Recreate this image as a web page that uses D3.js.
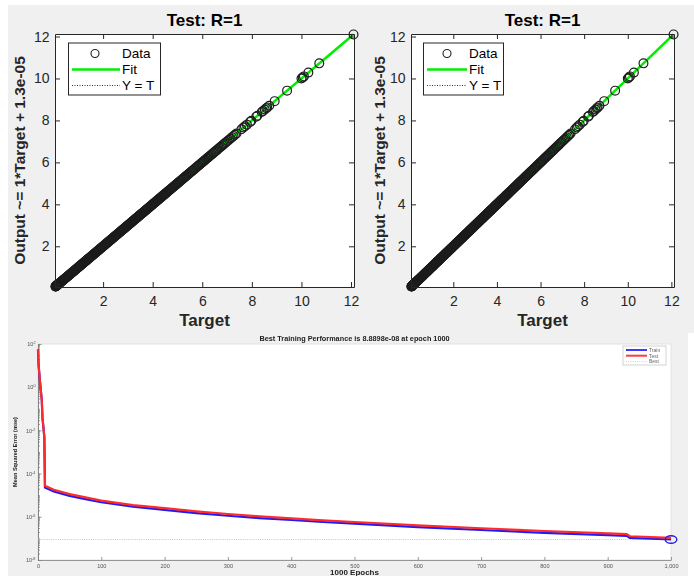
<!DOCTYPE html>
<html>
<head>
<meta charset="utf-8">
<script src="https://cdn.jsdelivr.net/npm/d3@7"></script>
<style>
  body { margin: 0; background: #ffffff; }
  svg { display: block; font-family: "Liberation Sans", Arial, Helvetica, sans-serif; }
</style>
</head>
<body>
<svg id="fig" width="694" height="576"></svg>
<script>
// ---------------- data ----------------
// Regression targets (outputs equal the targets to plotted precision, R = 1)
const targets = [
  0.08,0.085,0.09,0.095,0.10,0.105,0.11,0.12,0.125,0.13,0.14,0.15,0.16,0.17,0.18,0.19,0.20,0.215,0.23,0.245,
  0.26,0.275,0.29,0.31,0.33,0.35,0.37,0.39,0.41,0.43,0.45,0.48,0.50,0.53,0.55,0.58,0.60,0.63,0.65,0.68,
  0.70,0.73,0.75,0.78,0.80,0.83,0.85,0.88,0.90,0.93,0.95,0.98,1.00,1.03,1.05,1.08,1.10,1.13,1.15,1.18,
  1.20,1.23,1.25,1.28,1.30,1.33,1.35,1.38,1.40,1.43,1.45,1.48,1.50,1.53,1.55,1.58,1.60,1.63,1.65,1.68,
  1.70,1.73,1.75,1.78,1.80,1.83,1.85,1.88,1.90,1.93,1.95,1.98,2.00,2.03,2.05,2.08,2.10,2.13,2.15,2.18,
  2.20,2.23,2.25,2.28,2.30,2.33,2.35,2.38,2.40,2.43,2.45,2.48,2.50,2.53,2.55,2.58,2.60,2.63,2.65,2.68,
  2.70,2.73,2.75,2.78,2.80,2.83,2.85,2.88,2.90,2.93,2.95,2.98,3.00,3.03,3.05,3.08,3.10,3.13,3.15,3.18,
  3.20,3.23,3.25,3.28,3.30,3.33,3.35,3.38,3.40,3.43,3.45,3.48,3.50,3.53,3.55,3.58,3.60,3.63,3.65,3.68,
  3.70,3.73,3.75,3.78,3.80,3.83,3.85,3.88,3.90,3.93,3.95,3.98,4.00,4.03,4.05,4.08,4.10,4.13,4.15,4.18,
  4.20,4.23,4.25,4.28,4.30,4.33,4.35,4.38,4.40,4.43,4.45,4.48,4.50,4.53,4.56,4.59,4.62,4.65,4.68,4.71,
  4.74,4.77,4.80,4.83,4.86,4.89,4.92,4.95,4.98,5.01,5.04,5.07,5.11,5.14,5.17,5.21,5.24,5.28,5.31,5.35,
  5.38,5.42,5.45,5.49,5.53,5.57,5.60,5.64,5.68,5.72,5.76,5.80,5.84,5.88,5.92,5.96,6.00,6.04,6.08,6.12,
  6.17,6.21,6.25,6.29,6.34,6.38,6.43,6.47,6.52,6.56,6.61,6.66,6.71,6.76,6.81,6.86,6.91,6.96,7.02,7.08,
  7.14,7.20,7.26,7.32,7.38,
  7.58,7.66,7.72,7.80,7.93,7.98,8.18,8.22,8.40,8.45,8.52,8.58,8.62,8.70,8.92,9.42,10.00,10.05,10.10,10.28,
  10.72,12.10
];
const fitSlope = 1;
const fitIntercept = 1.3e-5;
const regTicks = [2, 4, 6, 8, 10, 12];
const regTitle = "Test: R=1";
const regYLabel = "Output ~= 1*Target + 1.3e-05";
const regXLabel = "Target";
const regLegend = ["Data", "Fit", "Y = T"];

// Training record
const epochs    = [0, 1, 3, 6, 7, 9, 10, 11, 25, 50, 75, 100, 150, 200, 250, 300, 350, 400, 450, 500, 600, 700, 800, 900, 930, 935, 1000];
const trainPerf = [56, 10, 2.0, 0.25, 0.04, 0.01, 0.005, 2.24e-5, 1.48e-5, 9.3e-6, 6.6e-6, 4.7e-6, 2.95e-6, 2.1e-6, 1.48e-6, 1.12e-6,
                   8.7e-7, 7.1e-7, 5.75e-7, 4.8e-7, 3.3e-7, 2.45e-7, 1.82e-7, 1.41e-7, 1.32e-7, 1.05e-7, 8.8898e-8];
const testPerf  = [56, 10, 2.0, 0.25, 0.04, 0.01, 0.005, 2.7e-5, 1.8e-5, 1.12e-5, 7.9e-6, 5.6e-6, 3.5e-6, 2.5e-6, 1.8e-6, 1.35e-6,
                   1.05e-6, 8.5e-7, 6.9e-7, 5.75e-7, 4.0e-7, 2.95e-7, 2.2e-7, 1.7e-7, 1.58e-7, 1.26e-7, 1.05e-7];
const bestEpoch = 1000;
const bestPerf = 8.8898e-8;
const epochTicks = [0, 100, 200, 300, 400, 500, 600, 700, 800, 900, 1000];
const perfTitle = "Best Training Performance is 8.8898e-08 at epoch 1000";
const perfXLabel = "1000 Epochs";
const perfYLabel = "Mean Squared Error  (mse)";
const perfLegend = ["Train", "Test", "Best"];

// ---------------- drawing ----------------
const svg = d3.select("#fig");
const ink = "#262626";

// figure backgrounds
svg.append("rect").attr("x", 8).attr("y", 5).attr("width", 686).attr("height", 328).attr("fill", "#f0f0f0");
svg.append("rect").attr("x", 8).attr("y", 333).attr("width", 680).attr("height", 243).attr("fill", "#f0f0f0");

const extent = [0.06, 12.12];

function regressionPanel(p) {
  const g = svg.append("g");
  const x = d3.scaleLinear().domain(extent).range([p.left, p.right]);
  const y = d3.scaleLinear().domain(extent).range([p.bottom, p.top]);

  g.append("rect").attr("x", p.left).attr("y", p.top)
    .attr("width", p.right - p.left).attr("height", p.bottom - p.top).attr("fill", "#fff");

  const lo = d3.min(targets), hi = d3.max(targets);
  // Y = T reference
  g.append("line").attr("x1", x(lo)).attr("y1", y(lo)).attr("x2", x(hi)).attr("y2", y(hi))
    .attr("stroke", "#000").attr("stroke-width", 0.8).attr("stroke-dasharray", "1,1.5");
  // fitted line
  g.append("line").attr("x1", x(lo)).attr("y1", y(fitSlope * lo + fitIntercept))
    .attr("x2", x(hi)).attr("y2", y(fitSlope * hi + fitIntercept))
    .attr("stroke", "#00ee00").attr("stroke-width", 2.6);
  // data markers
  g.append("g").selectAll("circle").data(targets).join("circle")
    .attr("cx", d => x(d)).attr("cy", d => y(d)).attr("r", 4.4)
    .attr("fill", "none").attr("stroke", "#1c1c1c").attr("stroke-width", 1.2);

  // axes (ticks point inward, box on)
  const ax = [
    g.append("g").attr("transform", `translate(0,${p.bottom})`)
      .call(d3.axisBottom(x).tickValues(regTicks).tickSizeInner(-5).tickSizeOuter(0).tickPadding(9)),
    g.append("g").attr("transform", `translate(${p.left},0)`)
      .call(d3.axisLeft(y).tickValues(regTicks).tickSizeInner(-5).tickSizeOuter(0).tickPadding(5.5)),
    g.append("g").attr("transform", `translate(0,${p.top})`)
      .call(d3.axisTop(x).tickValues(regTicks).tickSizeInner(-5).tickSizeOuter(0).tickFormat("")),
    g.append("g").attr("transform", `translate(${p.right},0)`)
      .call(d3.axisRight(y).tickValues(regTicks).tickSizeInner(-5).tickSizeOuter(0).tickFormat(""))
  ];
  ax.forEach(a => {
    a.selectAll("path,line").attr("stroke", ink);
    a.selectAll("text").attr("fill", ink).attr("font-size", 14)
      .attr("font-family", "'Liberation Sans', Arial, sans-serif");
  });

  const cx = (p.left + p.right) / 2, cy = (p.top + p.bottom) / 2;
  g.append("text").attr("x", cx).attr("y", 26).attr("text-anchor", "middle")
    .attr("font-size", 17).attr("font-weight", "bold").attr("fill", "#000").text(regTitle);
  g.append("text").attr("x", cx).attr("y", 326).attr("text-anchor", "middle")
    .attr("font-size", 17).attr("font-weight", "bold").attr("fill", ink).text(regXLabel);
  g.append("text").attr("transform", `translate(${p.ylab},${cy}) rotate(-90)`).attr("text-anchor", "middle")
    .attr("font-size", 15.5).attr("font-weight", "bold").attr("fill", ink).text(regYLabel);

  // legend
  const L = p.legend;
  g.append("rect").attr("x", L.x0).attr("y", 43).attr("width", L.x1 - L.x0).attr("height", 52)
    .attr("fill", "#fff").attr("stroke", ink).attr("stroke-width", 1);
  const rows = [58, 74, 90];
  g.append("circle").attr("cx", L.mark).attr("cy", rows[0] - 4.5).attr("r", 4)
    .attr("fill", "none").attr("stroke", "#222").attr("stroke-width", 1.1);
  g.append("line").attr("x1", L.s0).attr("x2", L.s1).attr("y1", rows[1] - 4.5).attr("y2", rows[1] - 4.5)
    .attr("stroke", "#00ee00").attr("stroke-width", 2.6);
  g.append("line").attr("x1", L.s0).attr("x2", L.s1).attr("y1", rows[2] - 4.5).attr("y2", rows[2] - 4.5)
    .attr("stroke", "#000").attr("stroke-width", 0.8).attr("stroke-dasharray", "1,1.5");
  regLegend.forEach((t, i) => {
    g.append("text").attr("x", L.text).attr("y", rows[i]).attr("font-size", 13.5).attr("fill", "#000").text(t);
  });
}

regressionPanel({ left: 55, right: 354, top: 34, bottom: 287, ylab: 25,
  legend: { x0: 68.5, x1: 160.5, mark: 95, s0: 72, s1: 120, text: 122 } });
regressionPanel({ left: 411, right: 674, top: 34, bottom: 287, ylab: 385,
  legend: { x0: 423.5, x1: 503.5, mark: 447, s0: 427, s1: 467, text: 469 } });

// ---------------- training performance ----------------
const defs = svg.append("defs");
defs.append("filter").attr("id", "soft").attr("x", "-5%").attr("y", "-5%").attr("width", "110%").attr("height", "110%")
  .append("feGaussianBlur").attr("stdDeviation", 0.55);

const pg = svg.append("g").attr("filter", "url(#soft)");
const P = { left: 38, right: 671, top: 344, bottom: 560 };
const xe = d3.scaleLinear().domain([0, 1000]).range([P.left, P.right]);
const ye = d3.scaleLog().domain([1e-8, 1e2]).range([P.bottom, P.top]);

pg.append("rect").attr("x", P.left).attr("y", P.top).attr("width", P.right - P.left).attr("height", P.bottom - P.top)
  .attr("fill", "#fff").attr("stroke", "#e2e2e2").attr("stroke-width", 1);

const axCol = "#808080";
const xa = pg.append("g").attr("transform", `translate(0,${P.bottom})`)
  .call(d3.axisBottom(xe).tickValues(epochTicks).tickSizeInner(-3).tickSizeOuter(0).tickPadding(4));
const yaMinor = pg.append("g").attr("transform", `translate(${P.left},0)`)
  .call(d3.axisLeft(ye).tickValues(ye.ticks(20)).tickSizeInner(-2).tickSizeOuter(0).tickFormat(""));
const majors = ye.ticks(20).filter(v => Math.abs(Math.log10(v) % 2) < 1e-9);
const ya = pg.append("g").attr("transform", `translate(${P.left},0)`)
  .call(d3.axisLeft(ye).tickValues(majors).tickSizeInner(-3.5).tickSizeOuter(0).tickPadding(2.5).tickFormat(() => ""));
[xa, ya, yaMinor].forEach(a => {
  a.selectAll("path,line").attr("stroke", axCol).attr("stroke-width", 0.8);
  a.selectAll("text").attr("fill", "#555").attr("font-size", 5.6)
    .attr("font-family", "'Liberation Sans', Arial, sans-serif");
});
ya.selectAll(".tick text").each(function (d) {
  const t = d3.select(this);
  t.append("tspan").text("10");
  t.append("tspan").attr("dy", "-0.55em").attr("font-size", 3.8).text(Math.round(Math.log10(d)));
});

// best line and marker
pg.append("line").attr("x1", P.left).attr("x2", P.right).attr("y1", ye(bestPerf)).attr("y2", ye(bestPerf))
  .attr("stroke", "#b8b8f0").attr("stroke-width", 0.9).attr("stroke-dasharray", "1,1.2");

const line = d3.line().x((d, i) => xe(epochs[i])).y(d => ye(d));
pg.append("path").attr("d", line(trainPerf)).attr("fill", "none").attr("stroke", "#1a1aff").attr("stroke-width", 2.2);
pg.append("path").attr("d", line(testPerf)).attr("fill", "none").attr("stroke", "#ff2a2a").attr("stroke-width", 2.2);
pg.append("ellipse").attr("cx", xe(bestEpoch)).attr("cy", ye(bestPerf)).attr("rx", 5.8).attr("ry", 3.8)
  .attr("fill", "none").attr("stroke", "#2020e0").attr("stroke-width", 1.4);

// labels
pg.append("text").attr("x", (P.left + P.right) / 2).attr("y", 341).attr("text-anchor", "middle")
  .attr("font-size", 7.3).attr("font-weight", "bold").attr("fill", "#222").text(perfTitle);
pg.append("text").attr("x", (P.left + P.right) / 2).attr("y", 575).attr("text-anchor", "middle")
  .attr("font-size", 8).attr("font-weight", "bold").attr("fill", "#222").text(perfXLabel);
pg.append("text").attr("transform", `translate(17,${(P.top + P.bottom) / 2}) rotate(-90)`).attr("text-anchor", "middle")
  .attr("font-size", 5.6).attr("font-weight", "bold").attr("fill", "#222").text(perfYLabel);

// legend
const lg = pg.append("g");
lg.append("rect").attr("x", 623).attr("y", 346).attr("width", 43).attr("height", 19)
  .attr("fill", "#fff").attr("stroke", "#c8c8c8").attr("stroke-width", 0.8);
const lrows = [350, 355.7, 361.5];
const lstyle = [
  { c: "#3a3aff", w: 2, dash: null },
  { c: "#ff3a3a", w: 2, dash: null },
  { c: "#c4c4ee", w: 0.9, dash: "1,1.2" }
];
perfLegend.forEach((t, i) => {
  lg.append("line").attr("x1", 626).attr("x2", 647).attr("y1", lrows[i]).attr("y2", lrows[i])
    .attr("stroke", lstyle[i].c).attr("stroke-width", lstyle[i].w).attr("stroke-dasharray", lstyle[i].dash);
  lg.append("text").attr("x", 649).attr("y", lrows[i] + 1.8).attr("font-size", 5).attr("fill", "#666").text(t);
});
</script>
</body>
</html>
